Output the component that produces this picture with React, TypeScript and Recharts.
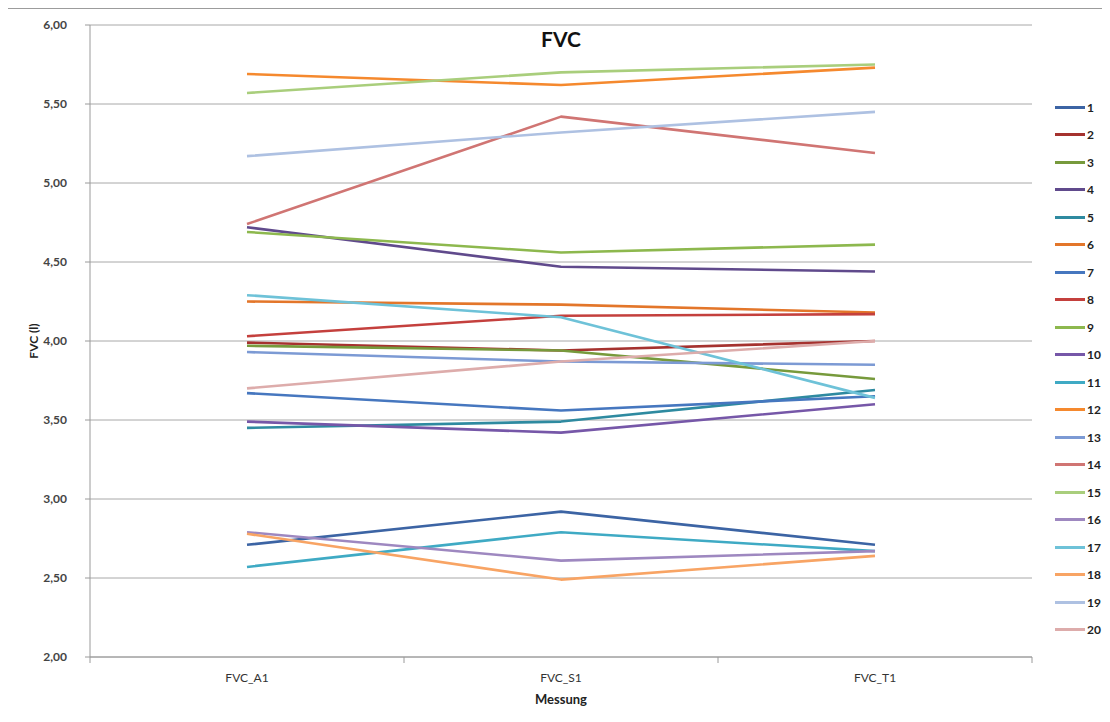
import React from 'react';
import { LineChart, Line, XAxis, YAxis, CartesianGrid } from 'recharts';

const categories = ['FVC_A1', 'FVC_S1', 'FVC_T1'];
const yTicks = [2, 2.5, 3, 3.5, 4, 4.5, 5, 5.5, 6];

const s1 = [2.71, 2.92, 2.71];
const s2 = [3.99, 3.94, 4.0];
const s3 = [3.97, 3.94, 3.76];
const s4 = [4.72, 4.47, 4.44];
const s5 = [3.45, 3.49, 3.69];
const s6 = [4.25, 4.23, 4.18];
const s7 = [3.67, 3.56, 3.65];
const s8 = [4.03, 4.16, 4.17];
const s9 = [4.69, 4.56, 4.61];
const s10 = [3.49, 3.42, 3.6];
const s11 = [2.57, 2.79, 2.67];
const s12 = [5.69, 5.62, 5.73];
const s13 = [3.93, 3.87, 3.85];
const s14 = [4.74, 5.42, 5.19];
const s15 = [5.57, 5.7, 5.75];
const s16 = [2.79, 2.61, 2.67];
const s17 = [4.29, 4.15, 3.64];
const s18 = [2.78, 2.49, 2.64];
const s19 = [5.17, 5.32, 5.45];
const s20 = [3.7, 3.87, 4.0];

const seriesNames = ['1','2','3','4','5','6','7','8','9','10','11','12','13','14','15','16','17','18','19','20'];
const seriesValues = [s1, s2, s3, s4, s5, s6, s7, s8, s9, s10, s11, s12, s13, s14, s15, s16, s17, s18, s19, s20];

const palette = [
  '#3C64A4', '#A5322F', '#779A3C', '#604A8C', '#2E8AA0', '#E3762A',
  '#4677BF', '#C4403D', '#8DB84E', '#7657A8', '#3FAAC4', '#F5892E',
  '#7C9AD4', '#D07573', '#A9CE7C', '#9E88C0', '#6EC2D8', '#F8A464',
  '#AEC1E2', '#DDACAB',
];

const data = categories.map((label, i) => {
  const row: Record<string, number | string> = { x: i + 0.5, label };
  seriesNames.forEach((n, k) => {
    row['s' + n] = seriesValues[k][i];
  });
  return row;
});

const xTicks = [0, 0.5, 1, 1.5, 2, 2.5, 3];
const FONT = 'Lato, "Liberation Sans", sans-serif';

const XTick = (props: any) => {
  const { x, y, payload } = props;
  const v = payload.value as number;
  if (Number.isInteger(v)) {
    return <line x1={x} x2={x} y1={y} y2={y + 6} stroke="#9a9a9a" strokeWidth={1} />;
  }
  const label = categories[Math.floor(v)];
  return (
    <text x={x} y={y + 25} textAnchor="middle" fontFamily={FONT} fontSize={12} fill="#333">
      {label}
    </text>
  );
};

const fmt = (v: number) => v.toFixed(2).replace('.', ',');

export default function App() {
  return (
    <div style={{ position: 'relative', width: 1102, height: 706, fontFamily: FONT }}>
      <div
        style={{
          position: 'absolute', left: -1, top: 0, width: 1103, height: 706,
          borderTop: '1px solid #9c9c9c', borderLeft: '1px solid #9c9c9c', boxSizing: 'border-box',
        }}
      />
      <LineChart
        width={1102}
        height={706}
        data={data}
        margin={{ top: 17, right: 78, bottom: 27, left: 22 }}
      >
        <CartesianGrid horizontal vertical={false} stroke="#a8a8a8" strokeWidth={1} />
        <XAxis
          dataKey="x"
          type="number"
          domain={[0, 3]}
          ticks={xTicks}
          interval={0}
          height={30}
          tickLine={false}
          tickSize={0}
          tickMargin={0}
          tick={<XTick />}
          axisLine={{ stroke: '#9a9a9a', strokeWidth: 1 }}
        />
        <YAxis
          type="number"
          domain={[2, 6]}
          ticks={yTicks}
          interval={0}
          width={60}
          tickSize={5}
          tickMargin={18}
          tickFormatter={fmt}
          tickLine={{ stroke: '#9a9a9a' }}
          axisLine={{ stroke: '#9a9a9a', strokeWidth: 1 }}
          tick={{ fontFamily: FONT, fontSize: 12, fontWeight: 'bold', fill: '#444' }}
        />
        {seriesNames.map((n, k) => (
          <Line
            key={n}
            type="linear"
            dataKey={'s' + n}
            name={n}
            stroke={palette[k]}
            strokeWidth={2.6}
            strokeLinejoin="round"
            dot={false}
            activeDot={false}
            isAnimationActive={false}
          />
        ))}
      </LineChart>
      <div
        style={{
          position: 'absolute', left: 553, top: 30, transform: 'translate(-50%, -50%)',
          fontSize: 21, fontWeight: 'bold', color: '#111', whiteSpace: 'nowrap',
        }}
      >
        FVC
      </div>
      <div
        style={{
          position: 'absolute', left: 25, top: 333, transform: 'translate(-50%, -50%) rotate(-90deg)',
          fontSize: 12, fontWeight: 'bold', color: '#222', whiteSpace: 'nowrap',
        }}
      >
        FVC (l)
      </div>
      <div
        style={{
          position: 'absolute', left: 553, top: 691, transform: 'translate(-50%, -50%)',
          fontSize: 13, fontWeight: 'bold', color: '#222', whiteSpace: 'nowrap',
        }}
      >
        Messung
      </div>
      {seriesNames.map((n, k) => (
        <div
          key={n}
          style={{
            position: 'absolute', left: 1047, top: 99 + k * 27.5 - 8, height: 16,
            display: 'flex', alignItems: 'center', whiteSpace: 'nowrap',
          }}
        >
          <div style={{ width: 30, height: 3, background: palette[k] }} />
          <span style={{ marginLeft: 2, fontSize: 12, fontWeight: 'bold', color: '#222' }}>{n}</span>
        </div>
      ))}
    </div>
  );
}
